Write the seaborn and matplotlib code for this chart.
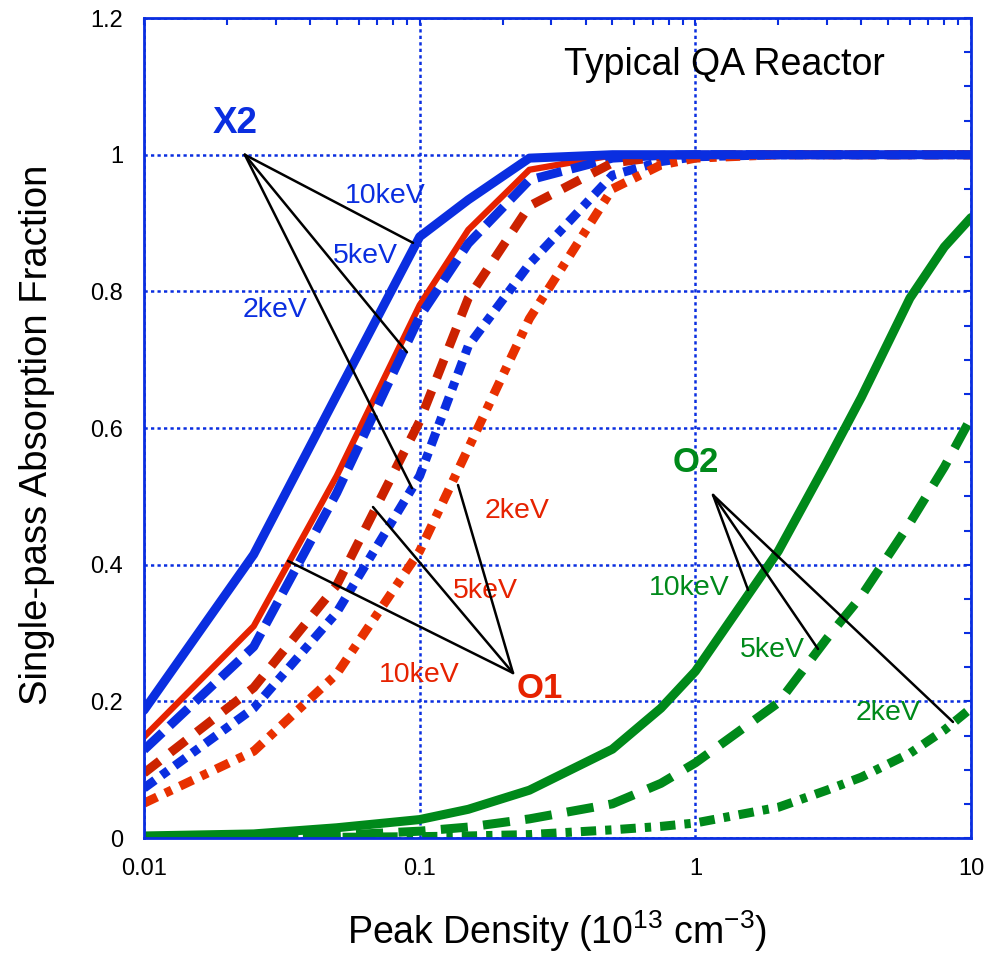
import numpy as np
import pandas as pd
import seaborn as sns
import matplotlib.pyplot as plt
from matplotlib.ticker import LogLocator, MultipleLocator, FuncFormatter, NullFormatter

# peak density in 1e13 cm^-3
density = [0.01, 0.025, 0.05, 0.1, 0.15, 0.25, 0.5, 0.75, 1, 2, 3, 4, 6, 8, 10]

# single-pass absorption fraction
x2_10kev = [0.187, 0.415, 0.648, 0.88, 0.934, 0.995, 1.0, 1.0, 1.0, 1.0, 1.0, 1.0, 1.0, 1.0, 1.0]
x2_5kev = [0.129, 0.28, 0.505, 0.763, 0.87, 0.963, 0.995, 0.999, 1.0, 1.0, 1.0, 1.0, 1.0, 1.0, 1.0]
x2_2kev = [0.073, 0.19, 0.33, 0.53, 0.72, 0.84, 0.97, 0.99, 0.997, 1.0, 1.0, 1.0, 1.0, 1.0, 1.0]
o1_10kev = [0.148, 0.31, 0.53, 0.78, 0.89, 0.978, 0.999, 1.0, 1.0, 1.0, 1.0, 1.0, 1.0, 1.0, 1.0]
o1_5kev = [0.095, 0.22, 0.37, 0.61, 0.79, 0.925, 0.988, 0.997, 0.999, 1.0, 1.0, 1.0, 1.0, 1.0, 1.0]
o1_2kev = [0.051, 0.127, 0.24, 0.42, 0.57, 0.76, 0.95, 0.985, 0.995, 1.0, 1.0, 1.0, 1.0, 1.0, 1.0]
o2_10kev = [0.003, 0.006, 0.015, 0.027, 0.042, 0.07, 0.13, 0.19, 0.244, 0.42, 0.55, 0.645, 0.79, 0.865, 0.908]
o2_5kev = [0.0, 0.001, 0.004, 0.01, 0.016, 0.028, 0.05, 0.08, 0.11, 0.198, 0.292, 0.354, 0.461, 0.543, 0.615]
o2_2kev = [0.0, 0.0, 0.001, 0.002, 0.003, 0.005, 0.012, 0.017, 0.022, 0.045, 0.07, 0.089, 0.124, 0.158, 0.19]

series = {
    "O1 10keV": o1_10kev,
    "X2 5keV": x2_5kev,
    "O1 5keV": o1_5kev,
    "X2 2keV": x2_2kev,
    "O1 2keV": o1_2kev,
    "X2 10keV": x2_10kev,
    "O2 10keV": o2_10kev,
    "O2 5keV": o2_5kev,
    "O2 2keV": o2_2kev,
}

blue = "#0a2ee0"
red = "#e62200"
green = "#00891a"

palette = {
    "X2 10keV": blue, "X2 5keV": blue, "X2 2keV": blue,
    "O1 10keV": red, "O1 5keV": "#cc2200", "O1 2keV": "#e83000",
    "O2 10keV": green, "O2 5keV": green, "O2 2keV": green,
}
dashes = {
    "X2 10keV": "", "X2 5keV": (2.8, 1.1), "X2 2keV": (1.5, 0.9, 0.9, 0.9),
    "O1 10keV": "", "O1 5keV": (2.2, 1.5), "O1 2keV": (1.6, 1.0, 0.8, 1.0),
    "O2 10keV": "", "O2 5keV": (3.0, 1.7), "O2 2keV": (1.7, 1.0, 0.7, 1.0),
}
sizes = {
    "X2 10keV": 6.5, "X2 5keV": 6.5, "X2 2keV": 6.5,
    "O1 10keV": 4.5, "O1 5keV": 6.5, "O1 2keV": 6.5,
    "O2 10keV": 6.5, "O2 5keV": 6.5, "O2 2keV": 6.5,
}

df = pd.concat(
    [pd.DataFrame({"density": density, "fraction": v, "series": k}) for k, v in series.items()],
    ignore_index=True,
)
order = list(series.keys())

sns.set_style("white")
plt.rcParams["font.family"] = ["Liberation Sans", "DejaVu Sans"]
plt.rcParams["text.color"] = "black"
plt.rcParams["axes.labelcolor"] = "black"
plt.rcParams["mathtext.fontset"] = "custom"
plt.rcParams["mathtext.rm"] = "Liberation Sans"
plt.rcParams["mathtext.it"] = "Liberation Sans:italic"
plt.rcParams["mathtext.bf"] = "Liberation Sans:bold"

fig = plt.figure(figsize=(9.98, 9.55), dpi=100)
ax = fig.add_axes([0.1443, 0.1225, 0.8287, 0.8586])
ax.set_xscale("log")

sns.lineplot(
    data=df, x="density", y="fraction",
    hue="series", style="series", size="series",
    hue_order=order, style_order=order, size_order=order,
    palette=palette, dashes=dashes, sizes=sizes,
    estimator=None, sort=False, legend=False, ax=ax,
)

ax.set_xlim(0.01, 10)
ax.set_ylim(0, 1.2)

ax.xaxis.set_major_locator(LogLocator(base=10))
ax.xaxis.set_minor_locator(LogLocator(base=10, subs=np.arange(2, 10)))
ax.xaxis.set_minor_formatter(NullFormatter())
ax.xaxis.set_major_formatter(FuncFormatter(lambda v, p: f"{v:g}"))
ax.yaxis.set_major_locator(MultipleLocator(0.2))
ax.yaxis.set_minor_locator(MultipleLocator(0.05))
ax.yaxis.set_major_formatter(FuncFormatter(lambda v, p: f"{v:g}"))

ax.tick_params(which="both", direction="in", top=True, right=True,
               color=blue, width=1.5, labelsize=17, labelcolor="black")
ax.tick_params(axis="x", which="both", length=5, pad=14.5)
ax.tick_params(axis="y", which="both", length=5, pad=15)

for s in ax.spines.values():
    s.set_color(blue)
    s.set_linewidth(2)

ax.set_axisbelow(True)
ax.grid(which="major", color=blue, linestyle=(0, (1.3, 1.3)), linewidth=1.8)

ax.set_xlabel(r"Peak Density (10$^{13}$ cm$^{-3}$)", fontsize=27)
ax.set_ylabel("Single-pass Absorption Fraction", fontsize=27.5)
ax.xaxis.set_label_coords(0.5, -0.086)
ax.yaxis.set_label_coords(-0.108, 0.4915)

# labels
ax.text(1.27, 1.117, "Typical QA Reactor", fontsize=27, ha="center", va="baseline")
ax.text(0.0214, 1.032, "X2", color=blue, fontsize=26.5, fontweight="bold", ha="center", va="baseline")
ax.text(0.273, 0.205, "O1", color=red, fontsize=25, fontweight="bold", ha="center", va="baseline")
ax.text(1.006, 0.5356, "O2", color=green, fontsize=25, fontweight="bold", ha="center", va="baseline")

kev_labels = [
    (0.0748, 0.929, "10keV", blue), (0.0634, 0.841, "5keV", blue), (0.0298, 0.762, "2keV", blue),
    (0.2255, 0.468, "2keV", red), (0.1726, 0.351, "5keV", red), (0.1, 0.228, "10keV", red),
    (0.948, 0.3556, "10keV", green), (1.897, 0.2649, "5keV", green), (5.0, 0.1727, "2keV", green),
]
for x, y, t, c in kev_labels:
    ax.text(x, y, t, color=c, fontsize=20.5, ha="center", va="baseline")

# pointer lines from each group label to its curves
pointers = [
    ((0.0232, 1.0), [(0.0946, 0.871), (0.0899, 0.711), (0.0938, 0.512)]),
    ((0.218, 0.2415), [(0.1377, 0.5166), (0.0677, 0.4844), (0.0333, 0.4054)]),
    ((1.159, 0.502), [(1.553, 0.363), (2.786, 0.2766), (8.6, 0.1698)]),
]
for apex, ends in pointers:
    for end in ends:
        ax.annotate("", xy=end, xytext=apex,
                    arrowprops=dict(arrowstyle="-", color="black", lw=1.8,
                                    shrinkA=0, shrinkB=0))

fig.savefig("out.png", dpi=100)
